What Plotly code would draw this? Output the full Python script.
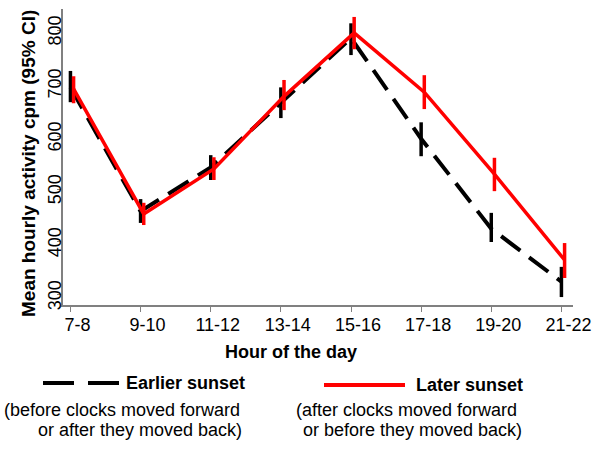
import plotly.graph_objects as go

hours = ["7-8", "9-10", "11-12", "13-14", "15-16", "17-18", "19-20", "21-22"]
earlier_mean = [692, 458, 541, 663, 785, 595, 425, 325]
earlier_upper = [723, 481, 564, 692, 813, 626, 455, 353]
earlier_lower = [664, 436, 517, 634, 753, 562, 400, 296]
later_mean = [689, 453, 538, 675, 795, 683, 528, 366]
later_upper = [713, 474, 560, 706, 825, 715, 559, 398]
later_lower = [662, 432, 517, 649, 764, 651, 496, 332]
y_ticks = [300, 400, 500, 600, 700, 800]

FONT = "Liberation Sans, Arial, sans-serif"
W, H = 600, 450
L, R, T, B = 63, 27, 9, 145
PW, PH = W - L - R, H - T - B

def px(x):
    return (x - L) / PW

def py(y):
    return (H - B - y) / PH

xs = list(range(len(hours)))
fig = go.Figure()
fig.add_trace(go.Scatter(
    x=xs, y=earlier_mean, mode="lines",
    line=dict(color="black", width=4, dash="24px,11px"),
    error_y=dict(type="data", symmetric=False,
                 array=[u - m for u, m in zip(earlier_upper, earlier_mean)],
                 arrayminus=[m - l for m, l in zip(earlier_mean, earlier_lower)],
                 color="black", thickness=3.5, width=0),
    showlegend=False))
fig.add_trace(go.Scatter(
    x=[i + 0.045 for i in xs], y=later_mean, mode="lines",
    line=dict(color="#ff0000", width=3.5),
    error_y=dict(type="data", symmetric=False,
                 array=[u - m for u, m in zip(later_upper, later_mean)],
                 arrayminus=[m - l for m, l in zip(later_mean, later_lower)],
                 color="#ff0000", thickness=3.5, width=0),
    showlegend=False))

fig.update_layout(
    width=W, height=H, margin=dict(l=L, r=R, t=T, b=B, pad=0),
    plot_bgcolor="white", paper_bgcolor="white",
    font=dict(family=FONT, color="black"),
    xaxis=dict(range=[-0.106, 7.165], tickmode="array", tickvals=xs, ticktext=hours,
               showgrid=False, zeroline=False, showline=True, linecolor="#808080",
               linewidth=1.5, ticks="outside", ticklen=5, tickcolor="#808080",
               ticklabelshift=7, ticklabelstandoff=-2,
               tickfont=dict(size=18, family=FONT, color="black")),
    yaxis=dict(range=[281, 840], tickmode="array", tickvals=y_ticks,
               showgrid=False, zeroline=False, showline=True, linecolor="#808080",
               linewidth=1.5, ticks="outside", ticklen=4, tickcolor="#808080",
               tickangle=-90, ticklabelshift=3, ticklabelstandoff=-11,
               tickfont=dict(size=18, family=FONT, color="black")),
)

ann = []
def text(t, x, y, anchor="left", size=18, bold=False, angle=0):
    ann.append(dict(text=("<b>%s</b>" % t) if bold else t, x=px(x), y=py(y),
                    xref="paper", yref="paper", xanchor=anchor, yanchor="middle",
                    showarrow=False, textangle=angle,
                    font=dict(size=size, family=FONT, color="black")))

text("Mean hourly activity cpm (95% CI)", 28, 164, anchor="center", size=19, bold=True, angle=-90)
text("Hour of the day", 291, 352, anchor="center", size=18, bold=True)
text("Earlier sunset", 124, 383, bold=True)
text("(before clocks moved forward", 2, 410)
text("or after they moved back)", 244, 430, anchor="right")
text("Later sunset", 414, 385, bold=True)
text("(after clocks moved forward", 294, 410)
text("or before they moved back)", 301, 430)
fig.update_layout(annotations=ann)

fig.add_shape(type="line", xref="paper", yref="paper", x0=px(43), x1=px(119), y0=py(383), y1=py(383),
              line=dict(color="black", width=4, dash="31px,14px"))
fig.add_shape(type="line", xref="paper", yref="paper", x0=px(324), x1=px(405), y0=py(385), y1=py(385),
              line=dict(color="#ff0000", width=4))

fig.write_html("out.html", config={"displayModeBar": False},
               post_script="document.body.style.margin='0';")
